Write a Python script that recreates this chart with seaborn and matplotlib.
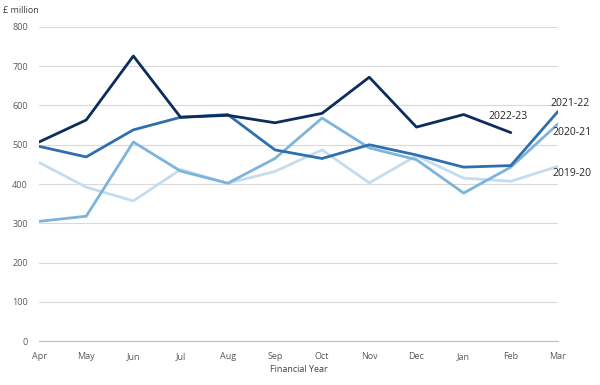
import numpy as np
import pandas as pd
import seaborn as sns
from matplotlib import pyplot as plt

months = ["Apr", "May", "Jun", "Jul", "Aug", "Sep", "Oct", "Nov", "Dec", "Jan", "Feb", "Mar"]

fy_2019_20 = [455, 392, 357, 437, 402, 432, 487, 403, 472, 415, 407, 445]
fy_2020_21 = [305, 318, 507, 433, 402, 465, 568, 492, 462, 377, 443, 553]
fy_2021_22 = [496, 469, 538, 570, 577, 487, 465, 500, 474, 443, 447, 585]
fy_2022_23 = [507, 563, 726, 570, 575, 556, 580, 672, 545, 577, 531]

years = ["2019-20", "2020-21", "2021-22", "2022-23"]
series = [fy_2019_20, fy_2020_21, fy_2021_22, fy_2022_23]
colors = ["#c5dcef", "#7db4dc", "#2f6fae", "#0c2d5b"]

rows = []
for year, vals in zip(years, series):
    for i, v in enumerate(vals):
        rows.append({"year": year, "pos": i, "value": v})
df = pd.DataFrame(rows)

sns.set_style("white")
plt.rcParams['font.family'] = ['Open Sans', 'DejaVu Sans']

fig = plt.figure(figsize=(6, 3.85), dpi=100)
ax = fig.add_axes([0.065, 0.114, 0.865, 0.816])

sns.lineplot(data=df, x="pos", y="value", hue="year", hue_order=years,
             palette=colors, linewidth=2, legend=False, ax=ax)

ax.set_xlim(0, 11)
ax.set_ylim(0, 800)
ax.set_yticks(range(0, 801, 100))
ax.set_xticks(range(12))
ax.set_xticklabels(months)
ax.grid(axis="y", color="#d9d9d9", linewidth=0.8)
ax.set_axisbelow(True)
for s in ["top", "right", "left"]:
    ax.spines[s].set_visible(False)
ax.spines["bottom"].set_color("#bfbfbf")
ax.tick_params(axis="x", colors="#595959", labelsize=6.5, length=4, color="#bfbfbf", pad=4)
ax.tick_params(axis="y", colors="#595959", labelsize=6.5, length=0, pad=8)
ax.set_xlabel("Financial Year", fontsize=6.5, color="#404040", labelpad=3)
ax.set_ylabel("")
fig.text(0.005, 0.985, "£ million", fontsize=6.5, color="#404040", va="top", ha="left")

# series labels
ax.text(9.95, 572, "2022-23", fontsize=7.5, color="#262626", ha="center", va="center")
ax.text(11.25, 604, "2021-22", fontsize=7.5, color="#262626", ha="center", va="center", clip_on=False)
ax.text(11.3, 530, "2020-21", fontsize=7.5, color="#262626", ha="center", va="center", clip_on=False)
ax.text(11.3, 428, "2019-20", fontsize=7.5, color="#262626", ha="center", va="center", clip_on=False)

fig.savefig("out.png", dpi=100)
